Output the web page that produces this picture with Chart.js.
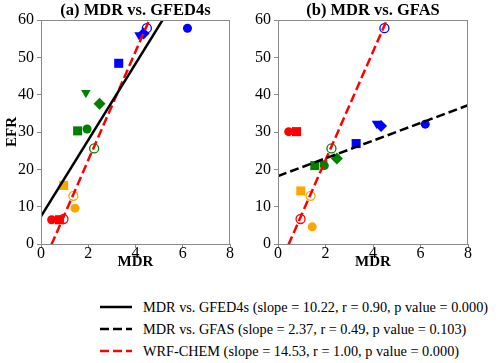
<!DOCTYPE html>
<html>
<head>
<meta charset="utf-8">
<script src="https://cdn.jsdelivr.net/npm/chart.js@4"></script>
<style>
  body { margin: 0; background: #fff; width: 500px; height: 363px; position: relative; overflow: hidden; }
  .panel { position: absolute; top: 0; width: 250px; height: 274px; }
  .ptitle { position: absolute; top: 0; height: 20px; line-height: 20px; width: 240px; text-align: center;
            font-family: "Liberation Serif", "Times New Roman", serif; font-weight: bold; font-size: 16.5px; color: #000; white-space: nowrap; }
  .legend { position: absolute; left: 100px; top: 296px; font-family: "Liberation Serif", "Times New Roman", serif; font-size: 14.3px; color: #000; }
  .legend div { height: 22px; display: flex; align-items: center; white-space: nowrap; }
  .legend svg { width: 32px; height: 6px; margin-right: 11px; }
</style>
</head>
<body>
<div class="panel" style="left:0"><canvas id="chart_gfed" width="250" height="274"></canvas></div>
<div class="panel" style="left:250px"><canvas id="chart_gfas" width="250" height="274"></canvas></div>
<div class="ptitle" style="left:15.5px">(a) MDR vs. GFED4s</div>
<div class="ptitle" style="left:253px">(b) MDR vs. GFAS</div>
<div class="legend" id="legend"></div>
<script>
// mau theo vung
const regionColors = ["#ff0000", "#ffa500", "#008000", "#0000ff"];

// cham tron dac
const circleMDR = [0.45, 1.44, 1.95, 6.2];
const circleGFED = [6.5, 9.6, 30.8, 57.8];
const circleGFAS = [30.1, 4.6, 21.0, 32.1];

// hinh vuong
const squareMDR = [0.78, 0.96, 1.55, 3.29];
const squareGFED = [6.5, 15.7, 30.3, 48.4];
const squareGFAS = [30.1, 14.2, 21.0, 26.9];

// tam giac nguoc (chi xanh la, xanh duong)
const triColors = ["#008000", "#0000ff"];
const triMDR = [1.9, 4.15];
const triGFED = [40.5, 56.0];
const triGFAS = [21.6, 32.3];

// hinh thoi
const diaColors = ["#008000", "#0000ff"];
const diaMDR = [2.48, 4.34];
const diaGFED = [37.6, 56.4];
const diaGFAS = [22.9, 31.6];

// WRF-CHEM (tron rong)
const wrfMDR = [0.95, 1.37, 2.25, 4.48];
const wrfEFR = [6.7, 12.9, 25.6, 57.8];

// duong hoi quy
const fitNames = ["MDR vs. GFED4s", "MDR vs. GFAS", "WRF-CHEM"];
const fitSlope = [10.22, 2.37, 14.53];
const fitIntercept = [7.4, 18.2, -6.6];
const fitR = ["0.90", "0.49", "1.00"];
const fitP = ["0.000", "0.103", "0.000"];
const fitColor = ["#000000", "#000000", "#ff0000"];
const fitDash = [[], [9, 4], [9, 4]];

const xTicks = [0, 2, 4, 6, 8];
const yTicks = [0, 10, 20, 30, 40, 50, 60];

const FONT = "'Liberation Serif', 'Times New Roman', serif";
const AXIS_GRAY = "#8a8a8a";

function pts(xs, ys) {
    return xs.map((x, i) => ({ x: x, y: ys[i] }));
}

function fitLine(i) {
    return {
        type: "line",
        data: [0, 8].map(x => ({ x: x, y: fitSlope[i] * x + fitIntercept[i] })),
        borderColor: fitColor[i],
        borderWidth: 2.5,
        borderDash: fitDash[i],
        pointRadius: 0,
        fill: false,
        order: 0
    };
}

// khung xam 4 canh
const framePlugin = {
    id: "frame",
    afterDraw(chart) {
        const a = chart.chartArea, ctx = chart.ctx;
        ctx.save();
        ctx.strokeStyle = AXIS_GRAY;
        ctx.lineWidth = 1;
        ctx.strokeRect(a.left + 0.5, a.top + 0.5, a.right - a.left - 1, a.bottom - a.top);
        ctx.restore();
    }
};

function makeChart(id, efrCircle, efrSquare, efrTri, efrDia, fitIdx, yWidth, padRight, showYTitle) {
    const datasets = [
        { data: pts(circleMDR, efrCircle), pointStyle: "circle", pointRadius: 4.5,
          pointBackgroundColor: regionColors, pointBorderColor: regionColors, pointBorderWidth: 0, order: 5 },
        { data: pts(squareMDR, efrSquare), pointStyle: "rect", pointRadius: 6.4,
          pointBackgroundColor: regionColors, pointBorderColor: regionColors, pointBorderWidth: 0, order: 4 },
        { data: pts(triMDR, efrTri), pointStyle: "triangle", rotation: 180, pointRadius: 5.5,
          pointBackgroundColor: triColors, pointBorderColor: triColors, pointBorderWidth: 0, order: 3 },
        { data: pts(diaMDR, efrDia), pointStyle: "rectRot", pointRadius: 6,
          pointBackgroundColor: diaColors, pointBorderColor: diaColors, pointBorderWidth: 0, order: 2 },
        { data: pts(wrfMDR, wrfEFR), pointStyle: "circle", pointRadius: 4.5,
          pointBackgroundColor: "rgba(0,0,0,0)", pointBorderColor: regionColors, pointBorderWidth: 1.3, order: 1 }
    ];
    fitIdx.forEach(i => datasets.push(fitLine(i)));

    return new Chart(document.getElementById(id), {
        type: "scatter",
        data: { datasets: datasets },
        plugins: [framePlugin],
        options: {
            responsive: false,
            animation: false,
            events: [],
            layout: { padding: { right: padRight, top: 20, left: 0, bottom: 0 } },
            plugins: {
                legend: { display: false },
                tooltip: { enabled: false },
                title: { display: false }
            },
            scales: {
                x: {
                    type: "linear", min: 0, max: 8,
                    afterBuildTicks: s => { s.ticks = xTicks.map(v => ({ value: v })); },
                    afterFit: s => { s.height = 30; },
                    grid: { drawOnChartArea: false, drawTicks: true, tickLength: 4, color: AXIS_GRAY },
                    border: { color: AXIS_GRAY },
                    ticks: { color: "#000", padding: -4, font: { family: FONT, size: 16 }, maxRotation: 0 },
                    title: { display: true, text: "MDR", color: "#000", padding: { top: 0, bottom: 3 },
                             font: { family: FONT, size: 15, weight: "bold" } }
                },
                y: {
                    type: "linear", min: 0, max: 60,
                    afterBuildTicks: s => { s.ticks = yTicks.map(v => ({ value: v })); },
                    afterFit: s => { s.width = yWidth; },
                    grid: { drawOnChartArea: false, drawTicks: true, tickLength: 4, color: AXIS_GRAY },
                    border: { color: AXIS_GRAY },
                    ticks: { color: "#000", padding: 3, font: { family: FONT, size: 16 } },
                    title: { display: showYTitle, text: "EFR", color: "#000", padding: { top: 3, bottom: 0 },
                             font: { family: FONT, size: 15, weight: "bold" } }
                }
            }
        }
    });
}

makeChart("chart_gfed", circleGFED, squareGFED, triGFED, diaGFED, [0, 2], 41, 20, true);
makeChart("chart_gfas", circleGFAS, squareGFAS, triGFAS, diaGFAS, [1, 2], 28, 32, false);

// chu thich
const legend = document.getElementById("legend");
fitNames.forEach((name, i) => {
    const row = document.createElement("div");
    const dash = fitDash[i].length ? 'stroke-dasharray="' + fitDash[i].join(",") + '"' : "";
    row.innerHTML = '<svg viewBox="0 0 32 6"><line x1="0" y1="3" x2="32" y2="3" stroke="' + fitColor[i] +
        '" stroke-width="2.5" ' + dash + '/></svg>' +
        '<span>' + name + ' (slope = ' + fitSlope[i].toFixed(2) + ', r = ' + fitR[i] + ', p value = ' + fitP[i] + ')</span>';
    legend.appendChild(row);
});
</script>
</body>
</html>
